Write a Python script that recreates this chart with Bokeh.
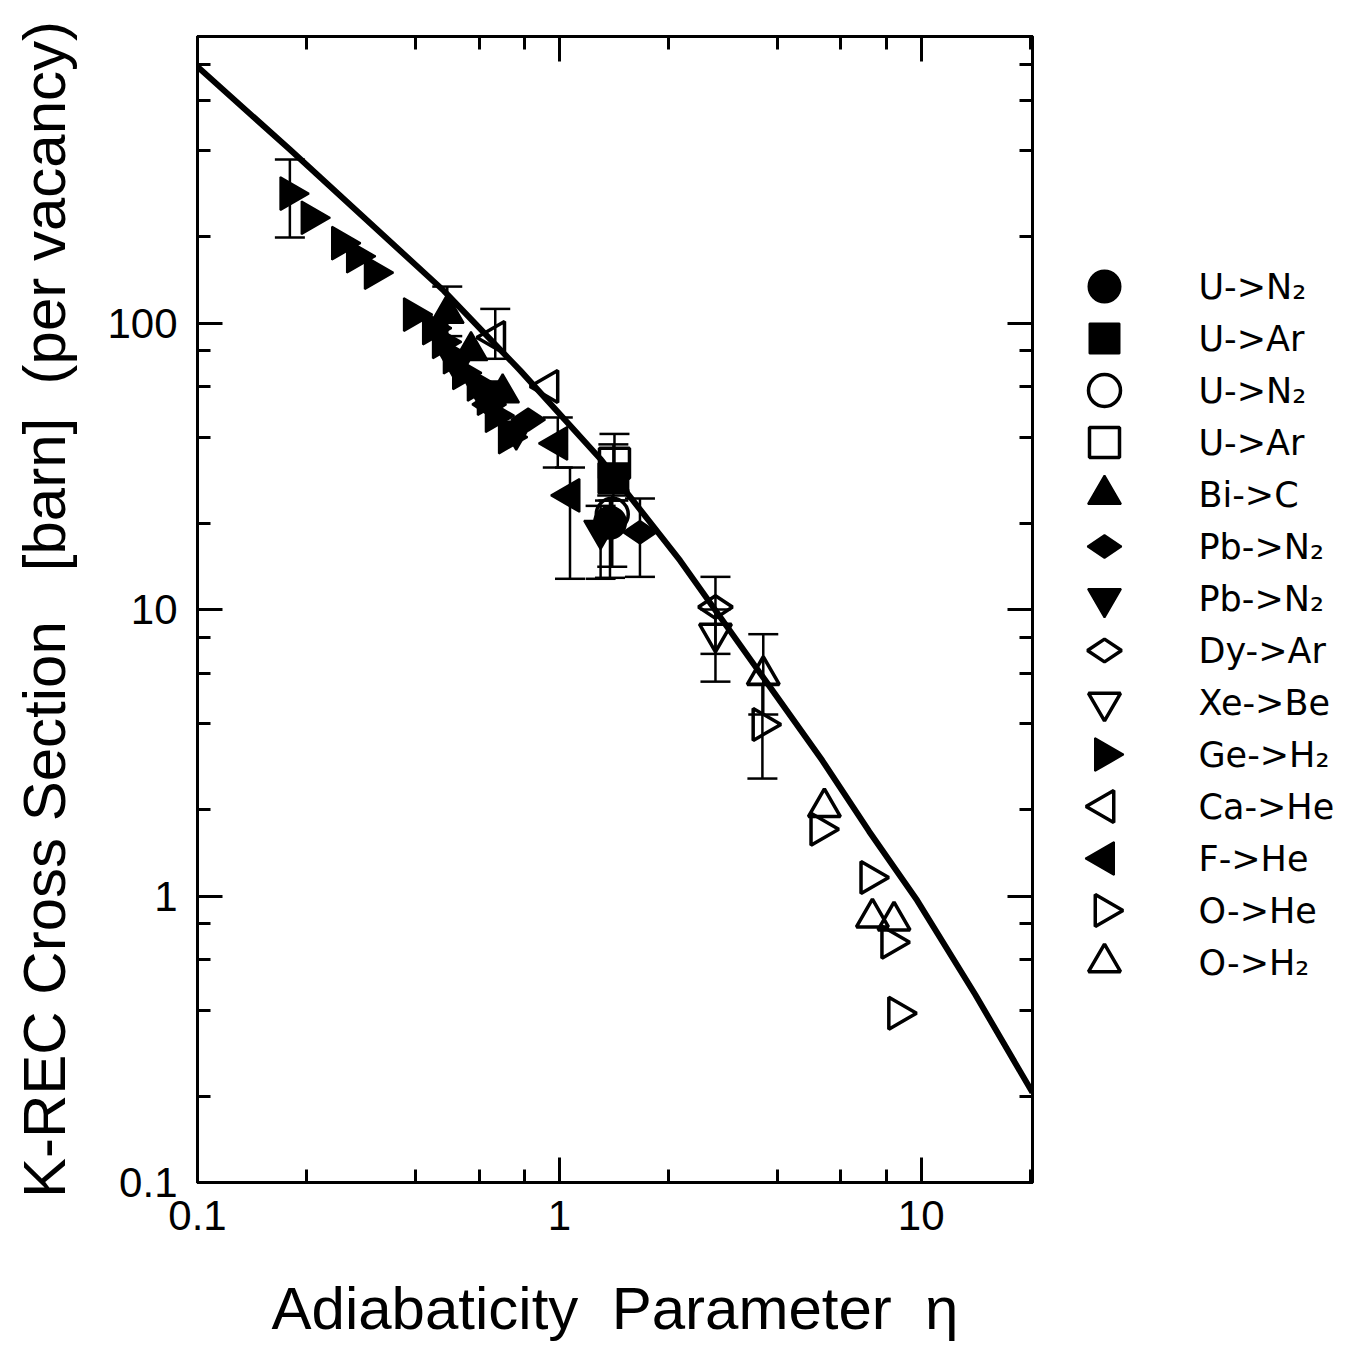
import math
from bokeh.plotting import figure
from bokeh.layouts import row
from bokeh.models import (ColumnDataSource, Whisker, TeeHead, LogAxis, LogTicker,
                          LogTickFormatter, Range1d)
from bokeh.core.properties import value
from bokeh.embed import file_html
from bokeh.resources import INLINE

# ---------------- data ----------------
eta_theory = [0.1, 0.18, 0.479, 0.78, 1.297, 2.157, 5.33, 7.18, 9.75, 14.1, 20.3]
sigma_theory = [785, 403, 129.7, 68.2, 33.6, 14.8, 2.97, 1.68, 0.964, 0.453, 0.206]

u_n2_f_eta = [1.38];  u_n2_f_sig = [20.1]
u_ar_f_eta = [1.41];  u_ar_f_sig = [28.7]
u_n2_o_eta = [1.40];  u_n2_o_sig = [21.5]
u_ar_o_eta = [1.42];  u_ar_o_sig = [32.4]
bi_c_eta = [0.49, 0.57, 0.697];  bi_c_sig = [108, 80, 57]
pb_n2_d_eta = [0.64, 0.82, 1.67];  pb_n2_d_sig = [52, 46, 18.6]
pb_n2_t_eta = [0.52, 0.61, 0.76, 1.30];  pb_n2_t_sig = [72, 58, 42, 18.9]
dy_ar_eta = [2.70];  dy_ar_sig = [10.2]
xe_be_eta = [2.70];  xe_be_sig = [8.25]
ge_h2_eta = [0.18, 0.206, 0.25, 0.275, 0.308, 0.395, 0.446, 0.475, 0.509, 0.54,
             0.593, 0.632, 0.665, 0.723]
ge_h2_sig = [283, 233, 190, 171, 150, 107, 96, 86, 76, 67, 61, 54.5, 47.5, 40]
ca_he_eta = [0.665, 0.933];  ca_he_sig = [89, 60]
f_he_eta = [0.99, 1.07];  f_he_sig = [38, 25]
o_he_eta = [3.64, 5.26, 7.23, 8.26, 8.63];  o_he_sig = [3.97, 1.71, 1.16, 0.69, 0.39]
o_h2_eta = [3.66, 5.40, 7.33, 8.41];  o_h2_sig = [5.9, 2.04, 0.84, 0.82]

err_eta = [0.18, 0.49, 0.665, 0.99, 1.07, 1.41, 1.42, 1.38, 1.40, 1.30, 1.67, 2.70, 2.70, 3.66, 3.64]
err_lo = [199, 90, 75, 31.3, 12.8, 24, 26, 12.9, 14.1, 12.8, 13, 7.0, 5.6, 4.3, 2.57]
err_hi = [372, 134, 112, 46.8, 31.3, 37.7, 41, 24, 25, 23, 24.4, 13.0, 10, 8.2, 5.5]

x_ticks = [0.1, 1, 10]
y_ticks = [0.1, 1, 10, 100, 1000]
y_tick_labels = ["0.1", "1", "10", "100", ""]
x_tick_labels = ["0.1", "1", "10"]

FONT = "Liberation Sans"
LEG_FONT = "DejaVu Sans"

W, H = 1346, 1348
FRAME_L, FRAME_T, FRAME_R, FRAME_B = 197, 36, 1032, 1182
MAIN_W = FRAME_R + 10

p = figure(width=MAIN_W, height=H, x_axis_type="log", y_axis_type="log",
           x_range=Range1d(0.1, 20.3), y_range=Range1d(0.1, 1000),
           output_backend="svg", toolbar_location=None,
           min_border_left=FRAME_L, min_border_right=MAIN_W - FRAME_R,
           min_border_top=FRAME_T, min_border_bottom=H - FRAME_B)
p.background_fill_color = "white"
p.border_fill_color = "white"
p.grid.visible = False
p.outline_line_color = "black"
p.outline_line_width = 3

# theory curve
p.line(eta_theory, sigma_theory, line_color="black", line_width=6)

# error bars
src_err = ColumnDataSource(dict(base=err_eta, lower=err_lo, upper=err_hi))
p.add_layout(Whisker(source=src_err, base="base", lower="lower", upper="upper",
                     dimension="height", line_color="black", line_width=2.5,
                     upper_head=TeeHead(size=30, line_width=2.5, line_color="black"),
                     lower_head=TeeHead(size=30, line_width=2.5, line_color="black")))

HP = math.pi / 2
series = [
    ("U->N\u2082", u_n2_f_eta, u_n2_f_sig, "circle", True, 0, 32),
    ("U->Ar", u_ar_f_eta, u_ar_f_sig, "square", True, 0, 30),
    ("U->N\u2082", u_n2_o_eta, u_n2_o_sig, "circle", False, 0, 32),
    ("U->Ar", u_ar_o_eta, u_ar_o_sig, "square", False, 0, 30),
    ("Bi->C", bi_c_eta, bi_c_sig, "triangle", True, 0, 33),
    ("Pb->N\u2082", pb_n2_d_eta, pb_n2_d_sig, "diamond", True, HP, 34),
    ("Pb->N\u2082", pb_n2_t_eta, pb_n2_t_sig, "inverted_triangle", True, 0, 33),
    ("Dy->Ar", dy_ar_eta, dy_ar_sig, "diamond", False, HP, 34),
    ("Xe->Be", xe_be_eta, xe_be_sig, "inverted_triangle", False, 0, 32),
    ("Ge->H\u2082", ge_h2_eta, ge_h2_sig, "triangle", True, -HP, 33),
    ("Ca->He", ca_he_eta, ca_he_sig, "triangle", False, HP, 32),
    ("F->He", f_he_eta, f_he_sig, "triangle", True, HP, 33),
    ("O->He", o_he_eta, o_he_sig, "triangle", False, -HP, 32),
    ("O->H\u2082", o_h2_eta, o_h2_sig, "triangle", False, 0, 32),
]

for label, xs, ys, marker, filled, ang, size in series:
    p.scatter(xs, ys, marker=marker, size=size, angle=ang,
              fill_color="black" if filled else None,
              line_color="black", line_width=3.5 if not filled else 2)

def style_axis(ax, visible_labels=True):
    ax.axis_line_width = 3
    ax.axis_line_color = "black"
    ax.major_tick_in = 25
    ax.major_tick_out = 0
    ax.minor_tick_in = 13
    ax.minor_tick_out = 0
    ax.major_tick_line_width = 3
    ax.minor_tick_line_width = 3
    ax.major_tick_line_color = "black"
    ax.minor_tick_line_color = "black"
    ax.major_label_text_font = FONT
    ax.major_label_text_color = "black"
    ax.axis_label_text_font = FONT
    ax.axis_label_text_font_size = "60px"
    ax.axis_label_text_font_style = "normal"
    ax.axis_label_text_color = "black"
    if visible_labels:
        ax.major_label_text_font_size = "42px"
    else:
        ax.major_label_text_font_size = "1px"
        ax.major_label_text_alpha = 0
        ax.major_label_standoff = 0

xa = p.xaxis[0]
ya = p.yaxis[0]
xa.ticker = LogTicker()
ya.ticker = LogTicker()
xa.formatter = LogTickFormatter(min_exponent=4)
ya.formatter = LogTickFormatter(min_exponent=4)
xa.major_label_overrides = {t: s for t, s in zip(x_ticks, x_tick_labels)}
ya.major_label_overrides = {t: s for t, s in zip(y_ticks, y_tick_labels)}
style_axis(xa)
style_axis(ya)
xa.major_label_standoff = 18
ya.major_label_standoff = 20
xa.axis_label = "Adiabaticity\u00a0 Parameter\u00a0 \u03b7"
ya.axis_label = "K-REC Cross Section\u00a0\u00a0\u00a0[barn]\u00a0\u00a0(per vacancy)"
xa.axis_label_standoff = 42
ya.axis_label_standoff = 26

top = LogAxis(ticker=LogTicker(), formatter=LogTickFormatter(min_exponent=4))
right = LogAxis(ticker=LogTicker(), formatter=LogTickFormatter(min_exponent=4))
style_axis(top, False)
style_axis(right, False)
p.add_layout(top, "above")
p.add_layout(right, "right")

# ---------------- legend panel (to the right of the frame) ----------------
LEG_W = W - MAIN_W
ROW0, ROW_STEP = 286, 52.0
MARK_X, TEXT_X = 1104 - MAIN_W, 1198 - MAIN_W

# the legend panel's frame is aligned with the main frame, so its y range spans
# the same pixel rows (FRAME_T .. FRAME_B) of the page
lg = figure(width=LEG_W, height=H, x_range=Range1d(0, LEG_W),
            y_range=Range1d(FRAME_B, FRAME_T),
            output_backend="svg", toolbar_location=None,
            x_axis_location=None, y_axis_location=None,
            min_border_left=0, min_border_right=0, min_border_top=FRAME_T,
            min_border_bottom=H - FRAME_B)
lg.grid.visible = False
lg.outline_line_color = None
lg.background_fill_color = "white"
lg.border_fill_color = "white"

labels = [s[0] for s in series]
rows_y = [ROW0 + ROW_STEP * i for i in range(len(series))]
for i, (label, xs, ys, marker, filled, ang, size) in enumerate(series):
    lg.scatter([MARK_X], [rows_y[i]], marker=marker, size=size, angle=ang,
               fill_color="black" if filled else None,
               line_color="black", line_width=3.5 if not filled else 2)
lg.text(x=[TEXT_X] * len(labels), y=rows_y, text=labels,
        text_font=value(LEG_FONT), text_font_size="35px", text_color="black",
        text_baseline="middle", text_align="left")

layout = row(p, lg, spacing=0)
open("out.html", "w").write(file_html(layout, INLINE))
